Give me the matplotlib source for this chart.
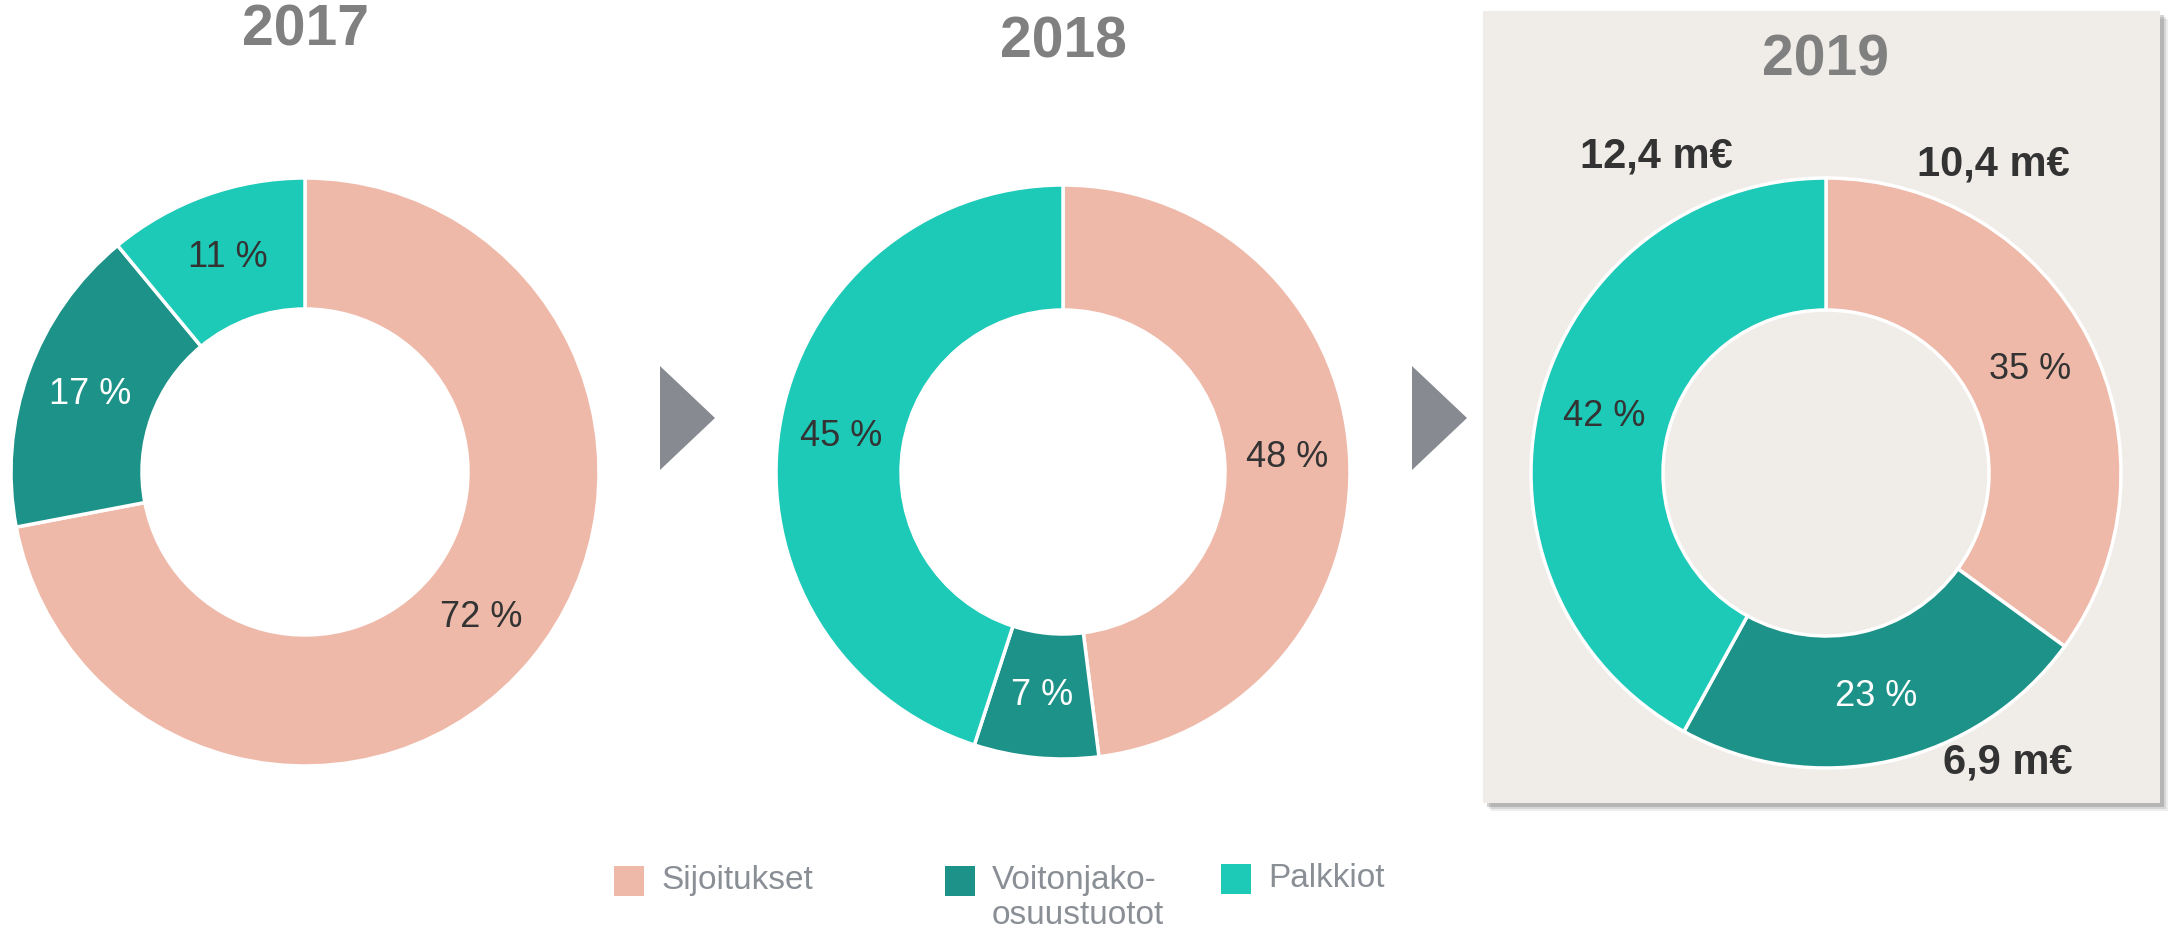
import matplotlib
matplotlib.use("Agg")
import matplotlib.pyplot as plt
from matplotlib.patches import Rectangle, Polygon

# data
years = ["2017", "2018", "2019"]
categories = ["Sijoitukset", "Voitonjako-\nosuustuotot", "Palkkiot"]
share_2017 = [72, 17, 11]
share_2018 = [48, 7, 45]
share_2019 = [35, 23, 42]
amounts_2019 = ["10,4 m€", "6,9 m€", "12,4 m€"]

colors = ["#EFB9A9", "#1D9288", "#1DC9B7"]
label_colors = ["#333333", "#FFFFFF", "#333333"]

W, H = 2182, 935
fig = plt.figure(figsize=(W / 100, H / 100), dpi=100)
fig.patch.set_facecolor("white")

narrow = ["Liberation Sans Narrow", "Liberation Sans", "DejaVu Sans"]
light = ["Liberation Sans Narrow", "Liberation Sans", "DejaVu Sans"]


def fx(x):
    return x / W


def fy(y):
    return 1 - y / H


# 2019 highlight box with a soft shadow
bx0, by0, bx1, by1 = 1483, 11, 2160, 803
for off, a in [(8, 0.10), (6, 0.15), (4, 0.25)]:
    fig.patches.append(Rectangle((fx(bx0 + off), fy(by1 + off)), fx(bx1 - bx0), (by1 - by0) / H,
                                 transform=fig.transFigure, color="#555555", alpha=a, lw=0, zorder=-3))
fig.patches.append(Rectangle((fx(bx0), fy(by1)), fx(bx1 - bx0), (by1 - by0) / H,
                             transform=fig.transFigure, color="#F0EDE8", lw=0, zorder=-2))

# arrows between charts
for ax0 in [660, 1412]:
    fig.patches.append(Polygon([(fx(ax0), fy(366)), (fx(ax0 + 55), fy(418)), (fx(ax0), fy(470))],
                               closed=True, transform=fig.transFigure, color="#878A90", lw=0))

centers = [(305, 472, 294, 163), (1063, 472, 287, 162), (1826, 473, 295, 163)]
title_y = [31, 42, 61]
shares = [share_2017, share_2018, share_2019]

for i, (cx, cy, ro, ri) in enumerate(centers):
    pad = 12
    side = 2 * (ro + pad)
    ax = fig.add_axes([fx(cx - ro - pad), fy(cy + ro + pad), side / W, side / H])
    rad = ro / (ro + pad)
    width = (ro - ri) / (ro + pad)
    wedges, texts = ax.pie(shares[i], colors=colors, startangle=90, counterclock=False,
                           radius=rad, wedgeprops=dict(width=width, edgecolor="white", linewidth=2.5),
                           labels=[f"{v} %" for v in shares[i]], labeldistance=(rad - width / 2) / rad)
    ax.set_xlim(-1, 1)
    ax.set_ylim(-1, 1)
    ax.set_aspect("equal")
    ax.axis("off")
    for t, c in zip(texts, label_colors):
        t.set_color(c)
        t.set_fontsize(26)
        t.set_family(light)
        t.set_ha("center")
        t.set_va("center")
    fig.text(fx(cx), fy(title_y[i]), years[i], ha="center", va="center",
             fontsize=41, fontweight="bold", color="#808080", family=narrow)

# amount labels for 2019
amount_pos = [(1993, 164), (2008, 763), (1656, 156)]
for txt, (x, y) in zip(amounts_2019, amount_pos):
    fig.text(fx(x), fy(y), txt, ha="center", va="center", fontsize=30,
             fontweight="bold", color="#333333", family=narrow, zorder=5)

# legend
leg_sq = [629, 960, 1236]
leg_y = [881, 881, 879]
for lab, col, x, y in zip(categories, colors, leg_sq, leg_y):
    fig.patches.append(Rectangle((fx(x - 15), fy(y + 15)), 30 / W, 30 / H,
                                 transform=fig.transFigure, color=col, lw=0))
    fig.text(fx(x + 32), fy(y - 16), lab, ha="left", va="top", fontsize=24,
             color="#8A8F96", family=light, linespacing=1.15)

fig.savefig("out.png", dpi=100, facecolor="white")
